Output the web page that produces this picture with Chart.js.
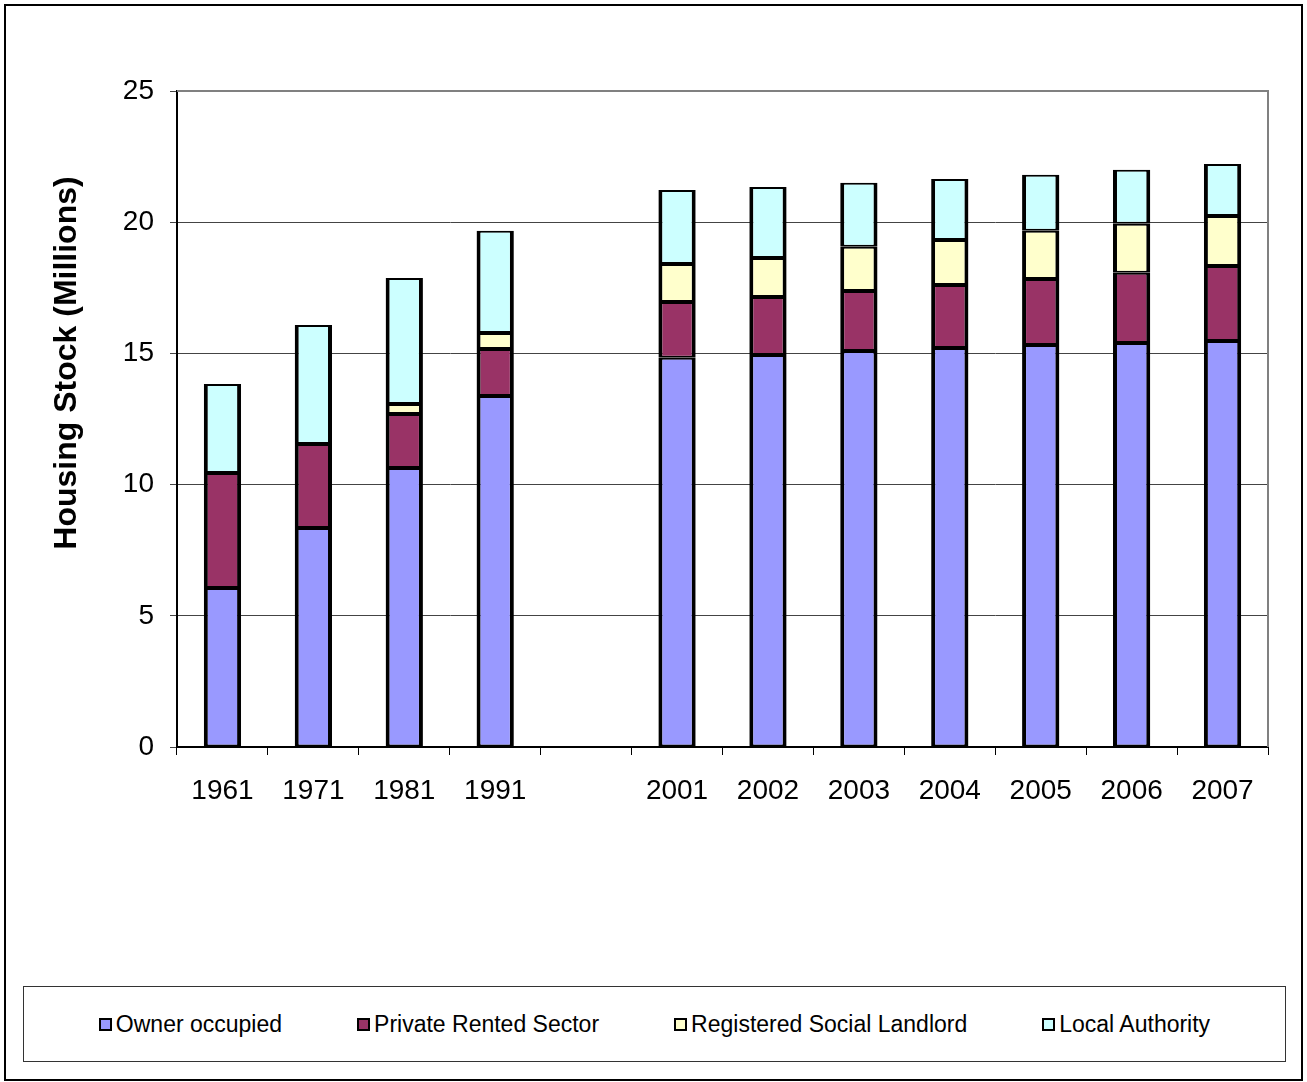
<!DOCTYPE html>
<html>
<head>
<meta charset="utf-8">
<script src="https://cdn.jsdelivr.net/npm/chart.js@4.4.0/dist/chart.umd.min.js"></script>
<style>
  body { margin: 0; background: #fff; font-family: "Liberation Sans", Arial, sans-serif; }
  #frame { position: absolute; left: 4px; top: 4px; width: 1295px; height: 1073px; border: 2px solid #000; }
  #c { position: absolute; left: 0; top: 0; }
  #legend { position: absolute; left: 23px; top: 986px; width: 1261px; height: 74px; border: 1px solid #333;
            display: flex; justify-content: center; align-items: center; gap: 75px; }
  .item { display: flex; align-items: center; font-size: 23px; color: #000; white-space: nowrap; }
  .box { width: 9px; height: 9px; border: 2px solid #000; margin-right: 4px; }
</style>
</head>
<body>
<div id="frame"></div>
<canvas id="c" width="1307" height="980"></canvas>
<div id="legend"></div>
<script>
var years = ['1961', '1971', '1981', '1991', '', '2001', '2002', '2003', '2004', '2005', '2006', '2007'];
var ownerOccupied = [6.06, 8.35, 10.63, 13.38, null, 14.83, 14.94, 15.09, 15.21, 15.32, 15.40, 15.47];
var privateRented = [4.38, 3.20, 2.06, 1.79, null, 2.13, 2.21, 2.29, 2.40, 2.52, 2.67, 2.86];
var socialLandlord = [null, null, 0.38, 0.61, null, 1.45, 1.49, 1.68, 1.71, 1.83, 1.87, 1.91];
var localAuthority = [3.39, 4.53, 4.80, 3.89, null, 2.82, 2.70, 2.44, 2.33, 2.14, 2.06, 1.98];
var seriesNames = ['Owner occupied', 'Private Rented Sector', 'Registered Social Landlord', 'Local Authority'];
var seriesColors = ['#9999FF', '#993366', '#FFFFCC', '#CCFFFF'];
var seriesData = [ownerOccupied, privateRented, socialLandlord, localAuthority];

var FONT = "'Liberation Sans', Arial, sans-serif";

var datasets = seriesNames.map(function (name, i) {
    return {
        label: name,
        data: seriesData[i],
        backgroundColor: seriesColors[i],
        borderColor: '#000',
        borderWidth: { left: 4, right: 4, top: 2, bottom: 2 },
        borderSkipped: false,
        barPercentage: 0.41,
        categoryPercentage: 1
    };
});

// plot border (grey top/right) and the rotated axis title
var extras = {
    id: 'extras',
    afterDraw: function (chart) {
        var a = chart.chartArea, ctx = chart.ctx;
        ctx.save();
        ctx.strokeStyle = '#808080';
        ctx.lineWidth = 2;
        ctx.beginPath();
        ctx.moveTo(a.left, a.top);
        ctx.lineTo(a.right, a.top);
        ctx.lineTo(a.right, a.bottom);
        ctx.stroke();
        ctx.translate(67, 363);
        ctx.rotate(-Math.PI / 2);
        ctx.fillStyle = '#000';
        ctx.font = 'bold 32px ' + FONT;
        ctx.textAlign = 'center';
        ctx.textBaseline = 'middle';
        ctx.fillText('Housing Stock (Millions)', 0, 0);
        ctx.restore();
    }
};

new Chart(document.getElementById('c'), {
    type: 'bar',
    data: { labels: years, datasets: datasets },
    plugins: [extras],
    options: {
        responsive: false,
        animation: false,
        layout: { padding: { left: 10, right: 39, top: 91, bottom: 153 } },
        plugins: { legend: { display: false }, tooltip: { enabled: false } },
        scales: {
            x: {
                stacked: true,
                afterFit: function (s) { s.height = 80; },
                grid: { offset: true, drawOnChartArea: false, drawTicks: true, tickLength: 8, color: '#000', lineWidth: 1 },
                border: { color: '#000', width: 2 },
                ticks: { color: '#000', font: { size: 28, family: FONT }, padding: 19, maxRotation: 0, autoSkip: false }
            },
            y: {
                stacked: true,
                min: 0,
                max: 25,
                afterFit: function (s) { s.width = 167; },
                grid: { color: '#444', lineWidth: 1, tickLength: 7 },
                border: { color: '#000', width: 2 },
                ticks: { stepSize: 5, color: '#000', font: { size: 28, family: FONT }, padding: 16 }
            }
        }
    }
});

var legend = document.getElementById('legend');
seriesNames.forEach(function (name, i) {
    var item = document.createElement('div');
    item.className = 'item';
    var box = document.createElement('span');
    box.className = 'box';
    box.style.background = seriesColors[i];
    item.appendChild(box);
    item.appendChild(document.createTextNode(name));
    legend.appendChild(item);
});
</script>
</body>
</html>
